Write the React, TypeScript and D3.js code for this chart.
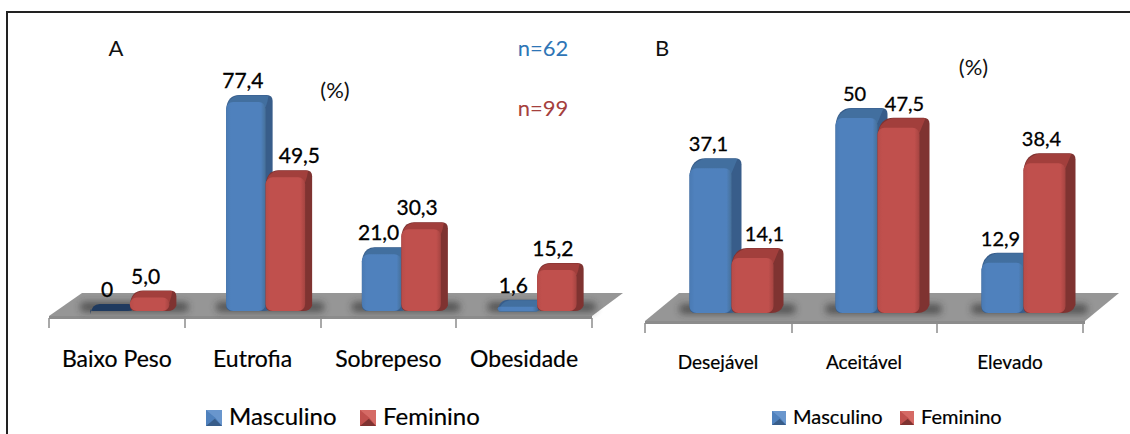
import * as d3 from "d3"

const seriesNames = ["Masculino", "Feminino"]
const categoriesA = ["Baixo Peso", "Eutrofia", "Sobrepeso", "Obesidade"]
const masculinoA = [0, 77.4, 21.0, 1.6]
const femininoA = [5.0, 49.5, 30.3, 15.2]
const labelsMascA = ["0", "77,4", "21,0", "1,6"]
const labelsFemA = ["5,0", "49,5", "30,3", "15,2"]

const categoriesB = ["Desejável", "Aceitável", "Elevado"]
const masculinoB = [37.1, 50, 12.9]
const femininoB = [14.1, 47.5, 38.4]
const labelsMascB = ["37,1", "50", "12,9"]
const labelsFemB = ["14,1", "47,5", "38,4"]

const FONT = "Lato, 'Noto Sans', sans-serif"
const colors = [
  { front: "url(#gradBlue)", side: "#385d8a", top: "#426f9f", flat: "#1f3a5f" },
  { front: "url(#gradRed)", side: "#7f3331", top: "#a23f3c", flat: "#8c3836" },
]

// silhouette of the extruded bar, corners rounded a little
function extrudePath(x: number, y: number, w: number, h: number, d: number, dy: number) {
  const r = Math.min(6, (h + dy) / 3)
  return `M${x + r},${y + h}
    L${x + w - 2},${y + h}
    Q${x + w + d * 0.7},${y + h} ${x + w + d},${y + h - dy * 0.8}
    L${x + w + d},${y - dy + r}
    Q${x + w + d},${y - dy} ${x + w + d - r},${y - dy}
    L${x + d + r},${y - dy}
    Q${x + d * 0.2},${y - dy} ${x},${y + r + 1}
    L${x},${y + h - r}
    Q${x},${y + h} ${x + r},${y + h}Z`
}

function Bar({ x, y, w, h, d, dy, value, c }: any) {
  if (value === 0) {
    return <path d={extrudePath(x, y, w, h, d, dy)} fill={c.flat} />
  }
  const rx = Math.min(7, h / 2)
  return (
    <g>
      <path d={extrudePath(x, y, w, h, d, dy)} fill={c.side} />
      <path d={`M${x + 1},${y + 5} Q${x + 2},${y - dy * 0.6} ${x + d + 5},${y - dy + 0.5} L${x + w + d - 4},${y - dy + 0.5} Q${x + w + 2},${y} ${x + w},${y + 5}Z`} fill={c.top} />
      <rect x={x} y={y} width={w} height={h} rx={rx} fill={c.front} />
    </g>
  )
}

function Panel(props: any) {
  const { categories, mascValues, femValues, mascLabels, femLabels, left, right, ticks, base, pxPerUnit, barW, d, dy, shiftX, floor, bandBottom, fontSize, catSize, catY, labelNudge } = props
  const x0 = d3.scaleBand<string>().domain(categories).range([left, right])
  const y = d3.scaleLinear().domain([0, 100]).range([base, base - pxPerUnit * 100])
  const inner = d3.scaleBand<string>().domain(seriesNames).range([-barW, barW])
  const rows = [mascValues, femValues]
  const labels = [mascLabels, femLabels]
  const floorPts = floor.map((p: number[]) => p.join(",")).join(" ")
  const f = floor
  return (
    <g>
      <polygon points={`${f[0][0]},${f[0][1]} ${f[3][0]},${f[3][1]} ${f[3][0]},${bandBottom} ${f[0][0]},${bandBottom}`} fill="#8c8c8c" />
      <polygon points={floorPts} fill="#969696" />
      {ticks.map((t: number) => (
        <line key={t} x1={t} x2={t} y1={bandBottom - 1} y2={bandBottom + 9} stroke="#8c8c8c" strokeWidth={1.5} />
      ))}
      {categories.map((cat: string) => {
        const cx = (x0(cat) as number) + x0.bandwidth() / 2 + shiftX
        return (
          <rect key={cat} x={cx - barW - 10} y={base - 9} width={barW * 2 + d + 22} height={10} rx={4} fill="#2a2a2a" opacity={0.6} filter="url(#soft)" />
        )
      })}
      {categories.map((cat: string, i: number) => {
        const cx = (x0(cat) as number) + x0.bandwidth() / 2 + shiftX
        return (
          <g key={cat}>
            {seriesNames.map((s, k) => {
              const v = rows[k][i]
              const bx = cx + (inner(s) as number)
              return (
                <Bar key={s} x={bx} y={y(v)} w={inner.bandwidth()} h={base - y(v)} d={d} dy={dy} value={v} c={colors[k]} />
              )
            })}
            {seriesNames.map((s, k) => {
              const v = rows[k][i]
              const bx = cx + (inner(s) as number) + inner.bandwidth() / 2
              const n = labelNudge[k][i]
              return (
                <text key={s} x={bx + n} y={y(v) - dy - 7} textAnchor="middle" fontSize={fontSize} fontFamily={FONT} fill="#000" stroke="#000" strokeWidth={0.3}>
                  {labels[k][i]}
                </text>
              )
            })}
            <text x={(x0(cat) as number) + x0.bandwidth() / 2} y={catY} textAnchor="middle" fontSize={catSize} fontFamily={FONT} fill="#000" stroke="#000" strokeWidth={0.2}>
              {cat}
            </text>
          </g>
        )
      })}
    </g>
  )
}

function Legend({ items, y, size, fontSize }: any) {
  return (
    <g>
      {items.map((it: any, k: number) => (
        <g key={it.name}>
          <rect x={it.x} y={y} width={size} height={size} fill={k === 0 ? "#4f81bd" : "#c0504d"} />
          <polygon points={`${it.x},${y} ${it.x + size},${y} ${it.x + size},${y + size} ${it.x + size * 0.6},${y + size * 0.5}`} fill={k === 0 ? "#6f9bd1" : "#d9706c"} opacity={0.8} />
          <polygon points={`${it.x},${y + size} ${it.x + size},${y + size} ${it.x + size * 0.55},${y + size * 0.55}`} fill={colors[k].side} />
          <text x={it.x + size + 7} y={y + size - 1} fontSize={fontSize} fontFamily={FONT} fill="#000" stroke="#000" strokeWidth={0.2}>
            {it.name}
          </text>
        </g>
      ))}
    </g>
  )
}

export default function App() {
  return (
    <svg width={1130} height={434} style={{ position: "absolute", left: 0, top: 0, background: "#fff" }}>
      <defs>
        <linearGradient id="gradBlue" x1="0" x2="1" y1="0" y2="0">
          <stop offset="0" stopColor="#4a7ab3" />
          <stop offset="0.12" stopColor="#4f81bd" />
          <stop offset="0.88" stopColor="#4f81bd" />
          <stop offset="1" stopColor="#467099" />
        </linearGradient>
        <linearGradient id="gradRed" x1="0" x2="1" y1="0" y2="0">
          <stop offset="0" stopColor="#b84c49" />
          <stop offset="0.12" stopColor="#c0504d" />
          <stop offset="0.88" stopColor="#c0504d" />
          <stop offset="1" stopColor="#a54441" />
        </linearGradient>
        <filter id="soft" x="-20%" y="-100%" width="140%" height="300%">
          <feGaussianBlur stdDeviation="3.5" />
        </filter>
      </defs>

      {/* frame, only top and left show in the crop */}
      <line x1={6} x2={1130} y1={12} y2={12} stroke="#222" strokeWidth={2} />
      <line x1={7} x2={7} y1={12} y2={434} stroke="#222" strokeWidth={2} />

      <Panel
        categories={categoriesA}
        mascValues={masculinoA}
        femValues={femininoA}
        mascLabels={labelsMascA}
        femLabels={labelsFemA}
        left={49}
        right={592}
        ticks={[49, 185, 321, 456, 592]}
        base={311}
        pxPerUnit={2.7}
        barW={39.5}
        d={7}
        dy={7}
        shiftX={13}
        floor={[[49, 316], [82, 293], [623, 293], [592, 316]]}
        bandBottom={319}
        fontSize={21}
        catSize={23}
        catY={367}
        labelNudge={[[-3, -3, -3, -4], [-4, 14, -4, -4]]}
      />
      <Panel
        categories={categoriesB}
        mascValues={masculinoB}
        femValues={femininoB}
        mascLabels={labelsMascB}
        femLabels={labelsFemB}
        left={645}
        right={1083}
        ticks={[645, 792, 937, 1083]}
        base={313}
        pxPerUnit={3.9}
        barW={42}
        d={10}
        dy={10}
        shiftX={13.5}
        floor={[[645, 321], [679, 293], [1119, 293], [1085, 321]]}
        bandBottom={324}
        fontSize={20}
        catSize={19}
        catY={369}
        labelNudge={[[-2, -2, -2], [12, 6, -3]]}
      />

      <Legend items={[{ name: "Masculino", x: 206 }, { name: "Feminino", x: 360 }]} y={410} size={16} fontSize={24} />
      <Legend items={[{ name: "Masculino", x: 772 }, { name: "Feminino", x: 900 }]} y={411} size={14} fontSize={20} />

      <g fontFamily={FONT} fontSize={22} textAnchor="middle">
        <text x={116} y={56} fill="#111">A</text>
        <text x={662} y={56} fill="#111">B</text>
        <text x={543} y={56} fill="#2e75b6">n=62</text>
        <text x={543} y={116} fill="#a5403d">n=99</text>
        <text x={335} y={98} fill="#111">(%)</text>
        <text x={973.5} y={75} fill="#111">(%)</text>
      </g>
    </svg>
  )
}
